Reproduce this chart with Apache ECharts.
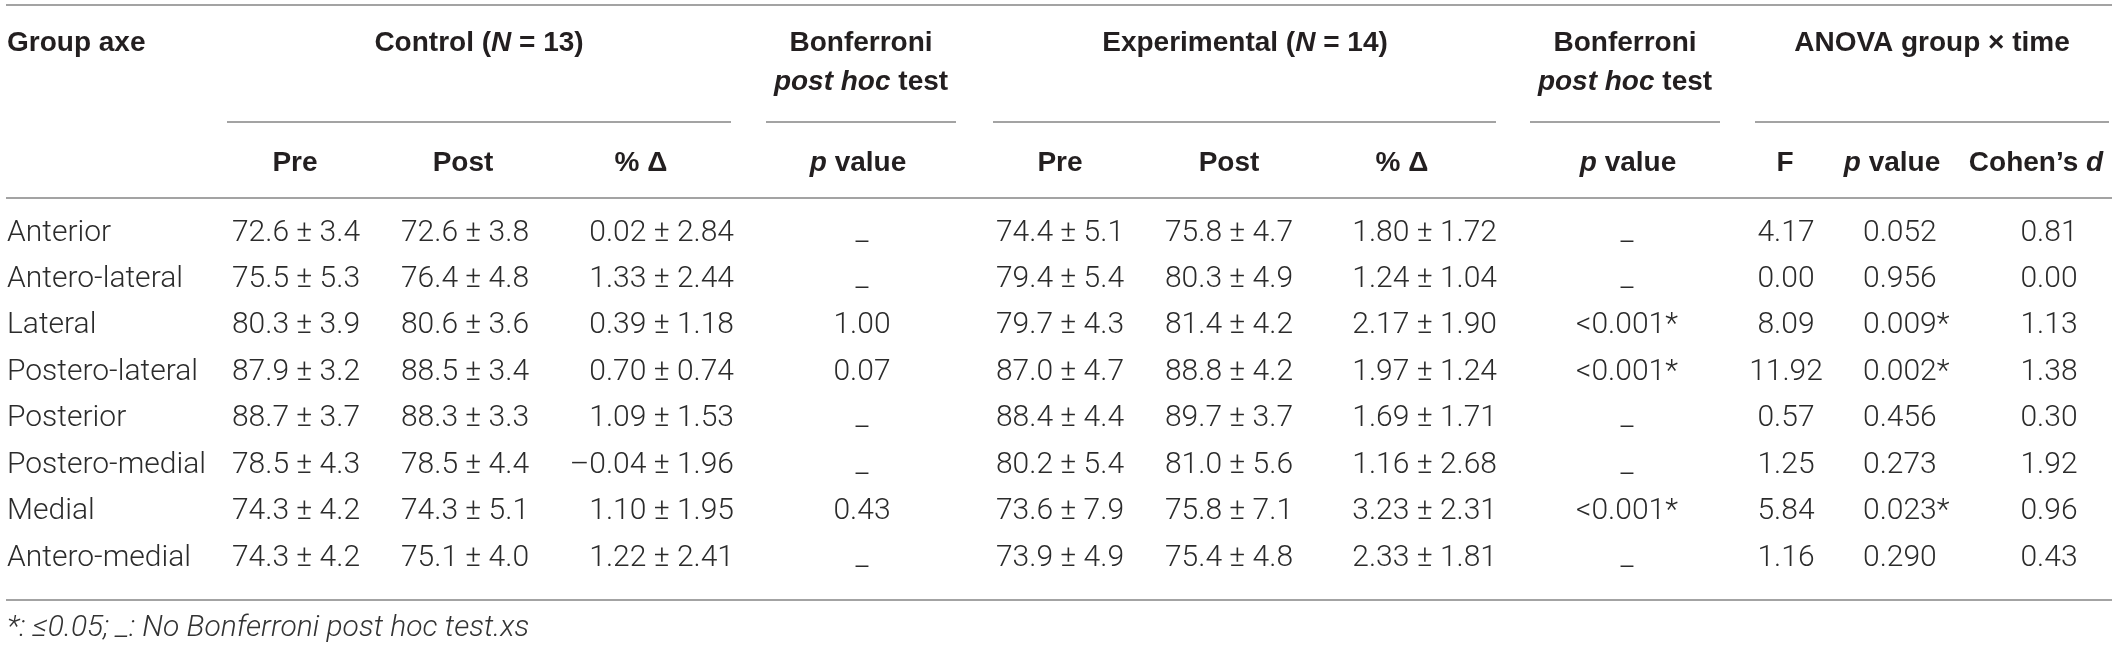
<!DOCTYPE html>
<html><head><meta charset="utf-8">
<script src="https://cdn.jsdelivr.net/npm/echarts@6/dist/echarts.min.js"></script>
<style>html,body{margin:0;padding:0;background:#fff}#c{width:2122px;height:649px}</style>
</head><body><div id="c"></div>
<script>
// ---------- data ----------
const groupAxes = ['Anterior','Antero-lateral','Lateral','Postero-lateral','Posterior','Postero-medial','Medial','Antero-medial'];
const controlPre = ['72.6 ± 3.4','75.5 ± 5.3','80.3 ± 3.9','87.9 ± 3.2','88.7 ± 3.7','78.5 ± 4.3','74.3 ± 4.2','74.3 ± 4.2'];
const controlPost = ['72.6 ± 3.8','76.4 ± 4.8','80.6 ± 3.6','88.5 ± 3.4','88.3 ± 3.3','78.5 ± 4.4','74.3 ± 5.1','75.1 ± 4.0'];
const controlDelta = ['0.02 ± 2.84','1.33 ± 2.44','0.39 ± 1.18','0.70 ± 0.74','1.09 ± 1.53','–0.04 ± 1.96','1.10 ± 1.95','1.22 ± 2.41'];
const controlBonfP = ['_','_','1.00','0.07','_','_','0.43','_'];
const expPre = ['74.4 ± 5.1','79.4 ± 5.4','79.7 ± 4.3','87.0 ± 4.7','88.4 ± 4.4','80.2 ± 5.4','73.6 ± 7.9','73.9 ± 4.9'];
const expPost = ['75.8 ± 4.7','80.3 ± 4.9','81.4 ± 4.2','88.8 ± 4.2','89.7 ± 3.7','81.0 ± 5.6','75.8 ± 7.1','75.4 ± 4.8'];
const expDelta = ['1.80 ± 1.72','1.24 ± 1.04','2.17 ± 1.90','1.97 ± 1.24','1.69 ± 1.71','1.16 ± 2.68','3.23 ± 2.31','2.33 ± 1.81'];
const expBonfP = ['_','_','<0.001*','<0.001*','_','_','<0.001*','_'];
const anovaF = ['4.17','0.00','8.09','11.92','0.57','1.25','5.84','1.16'];
const anovaP = ['0.052','0.956','0.009*','0.002*','0.456','0.273','0.023*','0.290'];
const cohenD = ['0.81','0.00','1.13','1.38','0.30','1.92','0.96','0.43'];

const groupHeaders = ['Group axe','{b|Control (}{bi|N}{b| = 13)}','Bonferroni\n{bi|post hoc}{b| test}','{b|Experimental (}{bi|N}{b| = 14)}','Bonferroni\n{bi|post hoc}{b| test}','ANOVA group × time'];
const subHeaders = ['Pre','Post','% Δ','{bi|p}{b| value}','Pre','Post','% Δ','{bi|p}{b| value}','F','{bi|p}{b| value}','{b|Cohen’s }{bi|d}'];
const footnote = '*: ≤0.05; _: No Bonferroni post hoc test.xs';

// ---------- layout (pixel units of the value axes) ----------
const W = 2122, H = 649;
const rowY0 = 233, rowStep = 46.45;
const dataCols = [
  {vals: groupAxes, x: 7, align: 'left'},
  {vals: controlPre, x: 296, align: 'center'},
  {vals: controlPost, x: 465, align: 'center'},
  {vals: controlDelta, x: 734, align: 'right'},
  {vals: controlBonfP, x: 862, align: 'center'},
  {vals: expPre, x: 1060, align: 'center'},
  {vals: expPost, x: 1229, align: 'center'},
  {vals: expDelta, x: 1497, align: 'right'},
  {vals: expBonfP, x: 1627, align: 'center'},
  {vals: anovaF, x: 1786, align: 'center'},
  {vals: anovaP, x: 1863, align: 'left'},
  {vals: cohenD, x: 2049, align: 'center'}
];
const groupHeaderPos = [[7,'left'],[479,'center'],[861,'center'],[1245,'center'],[1625,'center'],[1932,'center']];
const groupHeaderY = 43, groupHeaderY2 = 62.5;
const subHeaderX = [295, 463, 641, 858, 1060, 1229, 1402, 1628, 1785, 1892, 2036];
const subHeaderY = 163;
const footY = 628;
const ruleLines = [
  [6, 2112, 5], [227, 731, 122], [766, 956, 122], [993, 1496, 122], [1530, 1720, 122], [1755, 2109, 122],
  [6, 2112, 198], [6, 2112, 600]
];

// ---------- styles ----------
const HEAD_FONT = '"Liberation Sans", Arial, sans-serif';
const BODY_FONT = 'Roboto, "Liberation Sans", sans-serif';
const headRich = {
  b: {fontFamily: HEAD_FONT, fontWeight: 'bold', fontSize: 28, fill: '#231f20', lineHeight: 39},
  bi: {fontFamily: HEAD_FONT, fontWeight: 'bold', fontStyle: 'italic', fontSize: 28, fill: '#231f20', lineHeight: 39}
};

// ---------- build cells ----------
const cells = [];
dataCols.forEach(col => {
  col.vals.forEach((t, r) => {
    cells.push({value: [col.x, rowY0 + r * rowStep], text: t, align: col.align, kind: 'body'});
  });
});
groupHeaders.forEach((t, i) => {
  const multi = t.indexOf('\n') >= 0;
  cells.push({value: [groupHeaderPos[i][0], multi ? groupHeaderY2 : groupHeaderY], text: t, align: groupHeaderPos[i][1], kind: 'head'});
});
subHeaders.forEach((t, i) => {
  cells.push({value: [subHeaderX[i], subHeaderY], text: t, align: 'center', kind: 'head'});
});
cells.push({value: [7, footY], text: footnote, align: 'left', kind: 'foot'});

// make sure every header line uses rich tokens
cells.forEach(c => {
  if (c.kind === 'head') {
    c.text = c.text.split('\n').map(p => p.indexOf('{') === 0 ? p : '{b|' + p + '}').join('\n');
  }
});

const chart = echarts.init(document.getElementById('c'), null, {renderer: 'canvas'});
chart.setOption({
  animation: false,
  backgroundColor: '#ffffff',
  grid: {left: 0, right: 0, top: 0, bottom: 0, containLabel: false},
  xAxis: {type: 'value', min: 0, max: W, show: false},
  yAxis: {type: 'value', min: 0, max: H, inverse: true, show: false},
  series: [
    {
      type: 'custom',
      silent: true,
      clip: false,
      encode: {x: [0, 1], y: 2},
      data: ruleLines,
      renderItem: function (params, api) {
        const a = api.coord([api.value(0), api.value(2)]);
        const b = api.coord([api.value(1), api.value(2)]);
        return {type: 'line', shape: {x1: a[0], y1: a[1], x2: b[0], y2: b[1]},
          style: {stroke: '#a3a3a3', lineWidth: 2}};
      }
    },
    {
      type: 'custom',
      silent: true,
      clip: false,
      encode: {x: 0, y: 1},
      data: cells.map(c => c.value),
      renderItem: function (params, api) {
        const c = cells[params.dataIndex];
        const p = api.coord([api.value(0), api.value(1)]);
        let style;
        if (c.kind === 'head') {
          style = {text: c.text, rich: headRich, align: c.align, verticalAlign: 'middle',
            fontFamily: HEAD_FONT, fontWeight: 'bold', fontSize: 28, fill: '#231f20'};
        } else if (c.kind === 'foot') {
          style = {text: c.text, align: c.align, verticalAlign: 'middle',
            fontFamily: BODY_FONT, fontWeight: 300, fontStyle: 'italic', fontSize: 30, fill: '#333333'};
        } else {
          style = {text: c.text, align: c.align, verticalAlign: 'middle',
            fontFamily: BODY_FONT, fontWeight: 300, fontSize: 30, fill: '#2b2b2b'};
        }
        return {type: 'text', x: p[0], y: p[1], style: style};
      }
    }
  ]
});
</script></body></html>
